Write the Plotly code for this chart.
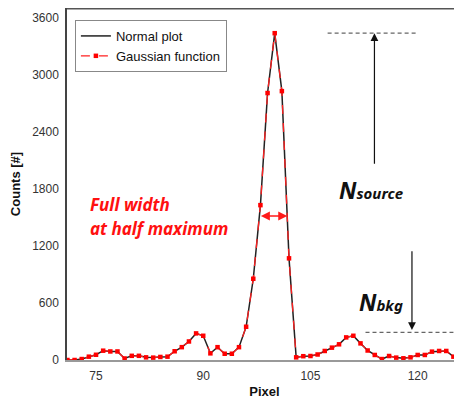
import plotly.graph_objects as go

pixels = list(range(71, 127))
counts = [0, 0, 10, 35, 55, 98, 90, 90, 16, 44,
          44, 28, 25, 32, 35, 92, 135, 195, 280, 255,
          70, 135, 66, 66, 135, 350, 855, 1630, 2810, 3440,
          2830, 1070, 28, 40, 42, 58, 95, 130, 165, 238,
          255, 175, 100, 53, 10, 42, 25, 18, 28, 53,
          53, 88, 95, 95, 35, 7]
gauss = counts[:]

x_ticks = [75, 90, 105, 120]
y_ticks = [0, 600, 1200, 1800, 2400, 3000, 3600]

peak = max(counts)
bkg_level = 290

fig = go.Figure()
fig.add_trace(go.Scatter(x=pixels, y=counts, mode="lines", name="Normal plot",
                         line=dict(color="#222222", width=1.5)))
fig.add_trace(go.Scatter(x=pixels, y=gauss, mode="lines+markers", name="Gaussian function",
                         line=dict(color="#ff2020", width=1.3, dash="dash"),
                         marker=dict(symbol="square", size=4.5, color="#ff0000")))

font_tick = dict(family="Liberation Sans, Arial", size=12, color="#333333")

# the page body has an 8px margin, so the figure is offset by (8, 8)
fig.update_layout(
    width=454, height=391,
    margin=dict(l=59, r=0, t=0, b=39),
    paper_bgcolor="white", plot_bgcolor="white",
    showlegend=True,
    legend=dict(x=0.02, y=0.966, xanchor="left", yanchor="top",
                bordercolor="#888888", borderwidth=1, bgcolor="white",
                font=dict(family="Liberation Sans, Arial", size=13, color="#111111"),
                tracegroupgap=0, itemwidth=30),
    xaxis=dict(range=[70.94, 126.2], tickvals=x_ticks, ticks="outside", ticklen=4,
               tickcolor="rgba(0,0,0,0)", showgrid=False, zeroline=False,
               showline=True, linecolor="#999999", linewidth=2, mirror=False,
               tickfont=font_tick,
               title=dict(text="<b>Pixel</b>", standoff=6,
                          font=dict(family="Liberation Sans, Arial", size=13, color="#111111"))),
    yaxis=dict(range=[0, 3705], tickvals=y_ticks, ticks="outside", ticklen=4,
               tickcolor="rgba(0,0,0,0)", showgrid=False, zeroline=False,
               showline=True, linecolor="#444444", linewidth=1.5,
               tickfont=font_tick,
               title=dict(text="<b>Counts [#]</b>", standoff=10,
                          font=dict(family="Liberation Sans, Arial", size=13, color="#111111"))),
)

# top frame line
fig.add_shape(type="line", xref="paper", yref="paper", x0=0, x1=1, y0=0.998, y1=0.998,
              line=dict(color="#555555", width=1.5))

# dashed reference lines
fig.add_shape(type="line", xref="x", yref="y", x0=107.4, x1=119.9, y0=peak, y1=peak,
              line=dict(color="#666666", width=1.2, dash="4px,3px"))
fig.add_shape(type="line", xref="x", yref="y", x0=112.7, x1=125.0, y0=bkg_level, y1=bkg_level,
              line=dict(color="#666666", width=1.2, dash="4px,3px"))

# N_source arrow (up)
fig.add_annotation(x=113.95, y=peak, ax=113.95, ay=2050, xref="x", yref="y", axref="x", ayref="y",
                   text="", showarrow=True, arrowhead=2, arrowsize=1.3, arrowwidth=1.2,
                   arrowcolor="#111111")
# N_bkg arrow (down)
fig.add_annotation(x=119.2, y=bkg_level + 25, ax=119.2, ay=1160, xref="x", yref="y", axref="x", ayref="y",
                   text="", showarrow=True, arrowhead=2, arrowsize=1.3, arrowwidth=1.2,
                   arrowcolor="#111111")
# FWHM double arrow
fig.add_annotation(x=101.75, y=1515, ax=97.85, ay=1515, xref="x", yref="y", axref="x", ayref="y",
                   text="", showarrow=True, arrowhead=2, startarrowhead=2, arrowside="end+start",
                   arrowsize=1.2, startarrowsize=1.2, arrowwidth=1.5, arrowcolor="#ff1a1a")

lab_font = dict(family="Noto Sans, Open Sans", color="#ff1010", size=17)
fig.add_annotation(x=73.9, y=1642, xref="x", yref="y", xanchor="left", yanchor="middle",
                   text="<b><i>Full width</i></b>", showarrow=False, font=lab_font)
fig.add_annotation(x=73.9, y=1379, xref="x", yref="y", xanchor="left", yanchor="middle",
                   text="<b><i>at half maximum</i></b>", showarrow=False, font=lab_font)

n_font = dict(family="Noto Sans, Open Sans", color="#111111", size=23)
fig.add_annotation(x=113.5, y=1789, xref="x", yref="y", xanchor="center", yanchor="middle",
                   text="<b><i>N<span style='font-size:15px'>source</span></i></b>",
                   showarrow=False, font=n_font)
fig.add_annotation(x=114.9, y=614, xref="x", yref="y", xanchor="center", yanchor="middle",
                   text="<b><i>N<span style='font-size:15px'>bkg</span></i></b>",
                   showarrow=False, font=n_font)

fig.write_html("out.html")
